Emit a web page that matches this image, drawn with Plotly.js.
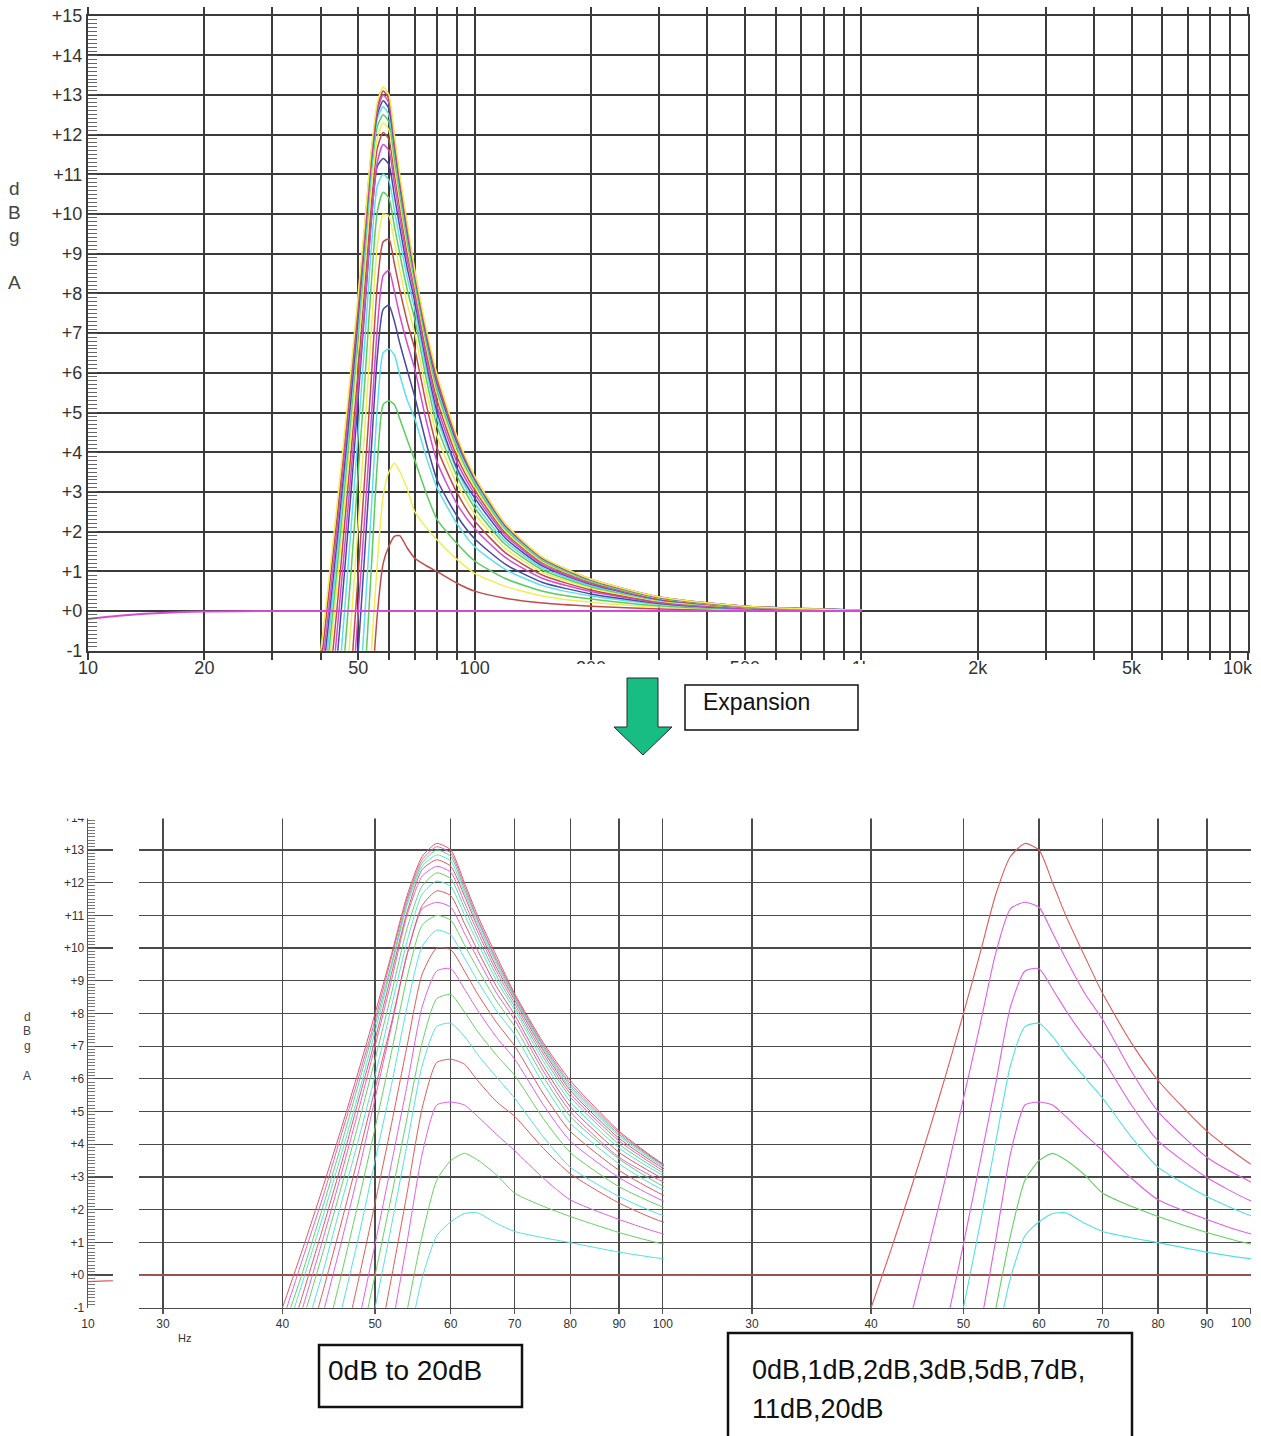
<!DOCTYPE html>
<html><head><meta charset="utf-8">
<script src="https://cdn.plot.ly/plotly-3.0.1.min.js"></script>
<style>html,body{margin:0;padding:0;background:#fff}#chart{width:1261px;height:1436px}</style>
</head><body><div id="chart"></div>
<script>
// ---------- data ----------
const FREQ = [38,40,42,44,46,48,50,52,54,56,58,60,62,64,67,70,75,80,90,100,120,150,200,300,500,1000];
const dB20 = [-2.8,-1.0,0.8,2.6,4.4,6.2,8.0,9.8,11.6,12.8,13.2,13.0,12.0,11.0,9.75,8.6,7.1,5.95,4.4,3.4,2.2,1.35,0.8,0.35,0.12,0.02];
const dB19 = [-3.2,-1.4,0.5,2.3,4.2,6.0,7.8,9.7,11.5,12.7,13.1,12.9,11.9,10.9,9.65,8.55,7.03,5.86,4.35,3.38,2.19,1.34,0.8,0.35,0.12,0.02];
const dB18 = [-3.6,-1.75,0.1,2.0,3.9,5.8,7.65,9.5,11.4,12.6,13.0,12.8,11.8,10.85,9.58,8.5,6.98,5.79,4.3,3.36,2.17,1.33,0.79,0.35,0.12,0.02];
const dB17 = [-4.1,-2.15,-0.2,1.7,3.6,5.5,7.45,9.4,11.3,12.5,12.85,12.66,11.7,10.75,9.5,8.45,6.92,5.72,4.25,3.32,2.15,1.32,0.78,0.34,0.12,0.02];
const dB16 = [-4.5,-2.6,-0.6,1.35,3.3,5.3,7.2,9.2,11.1,12.4,12.7,12.5,11.6,10.65,9.4,8.4,6.86,5.65,4.18,3.27,2.11,1.3,0.77,0.34,0.12,0.02];
const dB15 = [-5.0,-3.0,-1.0,1.0,3.0,5.0,7.0,9.0,11.0,12.2,12.5,12.32,11.4,10.5,9.28,8.3,6.76,5.55,4.1,3.2,2.07,1.27,0.75,0.33,0.11,0.02];
const dB14 = [-5.4,-3.4,-1.4,0.6,2.6,4.6,6.6,8.6,10.6,11.9,12.3,12.12,11.23,10.34,9.15,8.2,6.66,5.45,4.0,3.13,2.02,1.24,0.74,0.32,0.11,0.02];
const dB13 = [-6.1,-4.1,-2.0,0.0,2.1,4.1,6.1,8.2,10.2,11.65,12.05,11.88,11.02,10.16,9.0,8.1,6.53,5.3,3.88,3.05,1.97,1.21,0.72,0.31,0.11,0.02];
const dB12 = [-6.8,-4.7,-2.7,-0.6,1.5,3.6,5.7,7.7,9.8,11.3,11.75,11.6,10.76,9.93,8.82,7.95,6.38,5.15,3.75,2.95,1.91,1.17,0.69,0.3,0.1,0.02];
const dB11 = [-8.1,-5.8,-3.6,-1.3,0.9,3.1,5.4,7.6,9.8,11.2,11.4,11.25,10.46,9.68,8.62,7.8,6.23,5.0,3.6,2.85,1.84,1.13,0.67,0.29,0.1,0.02];
const dB10 = [-9.3,-7.0,-4.7,-2.4,-0.1,2.2,4.5,6.8,9.1,10.7,11.0,10.85,10.1,9.37,8.38,7.6,6.06,4.85,3.55,2.72,1.76,1.08,0.64,0.28,0.1,0.02];
const dB9  = [-10.7,-8.3,-6.0,-3.6,-1.2,1.1,3.5,5.8,8.2,10.05,10.55,10.4,9.7,9.0,8.08,7.35,5.84,4.65,3.4,2.6,1.68,1.03,0.61,0.27,0.09,0.02];
const dB8  = [-12.2,-9.8,-7.4,-5.0,-2.6,-0.2,2.2,4.6,7.0,9.2,10.0,9.95,9.3,8.6,7.72,7.0,5.54,4.4,3.2,2.45,1.58,0.97,0.58,0.25,0.09,0.01];
const dB7  = [-13.7,-11.2,-8.8,-6.4,-3.9,-1.5,0.95,3.4,5.8,8.2,9.3,9.37,8.75,8.1,7.27,6.6,5.2,4.1,2.98,2.27,1.47,0.9,0.53,0.23,0.08,0.01];
const dB6  = [-14.4,-12.0,-9.6,-7.2,-4.8,-2.4,0.0,2.4,4.8,7.1,8.45,8.58,8.05,7.45,6.72,6.1,4.78,3.75,2.7,2.08,1.35,0.82,0.49,0.21,0.07,0.01];
const dB5  = [-16.0,-13.5,-11.0,-8.5,-6.0,-3.5,-1.0,1.5,4.0,6.4,7.6,7.7,7.3,6.75,6.05,5.4,4.22,3.3,2.4,1.82,1.18,0.72,0.43,0.19,0.06,0.01];
const dB4  = [-18.3,-15.7,-13.1,-10.5,-7.9,-5.3,-2.7,-0.1,2.5,5.1,6.5,6.6,6.45,5.95,5.3,4.85,3.87,3.1,2.2,1.62,1.05,0.64,0.38,0.17,0.06,0.01];
const dB3  = [-20.6,-17.9,-15.2,-12.5,-9.8,-7.1,-4.4,-1.7,1.0,3.7,5.2,5.29,5.2,4.85,4.3,3.8,2.96,2.3,1.7,1.26,0.82,0.5,0.3,0.13,0.04,0.0];
const dB2  = [-21.5,-18.9,-16.3,-13.7,-11.1,-8.5,-6.3,-3.7,-1.1,1.2,2.9,3.5,3.72,3.52,3.06,2.5,2.1,1.79,1.3,0.95,0.62,0.38,0.22,0.1,0.03,0.0];
const dB1  = [-23.6,-21.0,-18.3,-15.7,-13.0,-10.4,-7.7,-5.0,-2.3,-0.1,1.2,1.63,1.88,1.9,1.58,1.33,1.14,0.99,0.7,0.5,0.32,0.2,0.12,0.05,0.02,0.0];
const FREQ0 = [10,12,14,17,20,30,100,1000];
const dB0  = [-0.2,-0.12,-0.07,-0.03,-0.01,0,0,0];

const LEVELS = [1,2,3,4,5,6,7,8,9,10,11,12,13,14,15,16,17,18,19,20];
const RIGHT_LEVELS = [1,2,3,5,7,11,20];

const TOP_X_TICKS  = [10,20,30,40,50,60,70,80,90,100,200,300,400,500,600,700,800,900,1000,2000,3000,4000,5000,6000,7000,8000,9000,10000];
const TOP_X_LABELS = ['10','20','','','50','','','','','100','200','','','500','','','','','1k','2k','','','5k','','','','',''];
const TOP_X_LAST_LABEL = '10k';
const TOP_Y_TICKS  = [-1,0,1,2,3,4,5,6,7,8,9,10,11,12,13,14,15];
const TOP_Y_LABELS = ['-1','+0','+1','+2','+3','+4','+5','+6','+7','+8','+9','+10','+11','+12','+13','+14','+15'];
const BOT_X_TICKS  = [30,40,50,60,70,80,90,100];
const BOT_X_LABELS = ['30','40','50','60','70','80','90','100'];
const BOT_X_LABELS_RIGHT = ['30','40','50','60','70','80','90',''];
const BOT_X_LAST_LABEL = '100';
const BOT_Y_TICKS  = [-1,0,1,2,3,4,5,6,7,8,9,10,11,12,13,14];
const BOT_Y_LABELS = ['-1','+0','+1','+2','+3','+4','+5','+6','+7','+8','+9','+10','+11','+12','+13','+14'];
const RULER_X_TICKS = [10], RULER_X_LABELS = ['10'];
const YLABEL_LETTERS = ['d','B','g','A'];
const ARROW_TEXT = 'Expansion';
const BOX_LEFT_TEXT = '0dB to 20dB';
const BOX_RIGHT_LINES = ['0dB,1dB,2dB,3dB,5dB,7dB,','11dB,20dB'];

const SERIES = {0:dB0,1:dB1,2:dB2,3:dB3,4:dB4,5:dB5,6:dB6,7:dB7,8:dB8,9:dB9,10:dB10,
  11:dB11,12:dB12,13:dB13,14:dB14,15:dB15,16:dB16,17:dB17,18:dB18,19:dB19,20:dB20};

// ---------- styling ----------
const W = 1261, H = 1436;
const px = x => x / W, py = y => 1 - y / H;
const TOP_COLORS = ['#d24cd2','#c44a4a','#eeee55','#5ccc5c','#5edfea','#4848a8'];
const BOT_COLORS = ['#e05a5a','#55e0e0','#66d066','#e060e6'];
const SANS = 'Liberation Sans, Arial, sans-serif';

const traces = [];
function add(level, xa, ya, color, width) {
  const isZero = level === 0;
  traces.push({
    type: 'scatter', mode: 'lines',
    x: isZero ? FREQ0 : FREQ, y: SERIES[level],
    xaxis: xa, yaxis: ya,
    line: {color: color, width: width, shape: 'spline', smoothing: 0.6},
    hoverinfo: 'skip'
  });
}
LEVELS.forEach(n => add(n, 'x', 'y', TOP_COLORS[n % 6], 1.5));
add(0, 'x', 'y', TOP_COLORS[0], 2);
LEVELS.forEach(n => add(n, 'x2', 'y2', BOT_COLORS[n % 4], 1));
add(0, 'x2', 'y2', BOT_COLORS[0], 1.2);
RIGHT_LEVELS.forEach(n => add(n, 'x3', 'y3', BOT_COLORS[n % 4], 1.1));
add(0, 'x3', 'y3', BOT_COLORS[0], 1.2);
add(0, 'x4', 'y4', BOT_COLORS[0], 1.2);

const botX = (dom, range, anchor, labels) => ({
  type: 'log', domain: dom, range: range, anchor: anchor,
  tickmode: 'array', tickvals: BOT_X_TICKS, ticktext: labels,
  ticks: 'outside', ticklen: 5, tickcolor: '#555', tickwidth: 1.3,
  showgrid: true, gridcolor: '#4a4a4a', gridwidth: 1.3,
  showline: true, linecolor: '#4a4a4a', linewidth: 1.3,
  tickfont: {family: SANS, size: 12, color: '#333'}, zeroline: false, fixedrange: true
});
const botY = (anchor) => ({
  domain: [py(1307.7), py(817.3)], range: [-1, 14], anchor: anchor,
  tickmode: 'array', tickvals: BOT_Y_TICKS, showticklabels: false, ticks: '',
  showgrid: true, gridcolor: '#4a4a4a', gridwidth: 1.3, zeroline: false, showline: false, fixedrange: true
});

const layout = {
  width: W, height: H, margin: {l: 0, r: 0, t: 0, b: 0},
  paper_bgcolor: '#fff', plot_bgcolor: '#fff', showlegend: false,
  xaxis: {
    type: 'log', domain: [px(88), px(1248)], range: [1, 4.0002], anchor: 'y',
    tickmode: 'array', tickvals: TOP_X_TICKS, ticktext: TOP_X_LABELS,
    ticks: 'outside', ticklen: 7, tickcolor: '#3a3a3a', tickwidth: 2,
    showgrid: true, gridcolor: '#3a3a3a', gridwidth: 2,
    showline: true, linecolor: '#3a3a3a', linewidth: 2, mirror: 'ticks',
    ticklabelstandoff: -7,
    tickfont: {family: SANS, size: 18, color: '#333'}, zeroline: false, fixedrange: true
  },
  yaxis: {
    domain: [py(650.7), py(15.5)], range: [-1, 15], anchor: 'x',
    tickmode: 'array', tickvals: TOP_Y_TICKS, ticktext: TOP_Y_LABELS,
    ticks: 'inside', ticklen: 9, tickcolor: '#555', tickwidth: 1,
    minor: {tickmode: 'linear', tick0: -1, dtick: 0.1, ticks: 'inside', ticklen: 9, tickcolor: '#666', tickwidth: 1, showgrid: false},
    showgrid: true, gridcolor: '#3a3a3a', gridwidth: 2,
    showline: true, linecolor: '#3a3a3a', linewidth: 2, mirror: true,
    tickfont: {family: SANS, size: 18, color: '#333'}, zeroline: false, fixedrange: true
  },
  xaxis2: botX([px(139), px(664)], [1.452, 2.0012], 'y2', BOT_X_LABELS),
  yaxis2: botY('x2'),
  xaxis3: botX([px(664), px(1251)], [1.3849, 2.0005], 'y3', BOT_X_LABELS_RIGHT),
  yaxis3: botY('x3'),
  xaxis4: {
    type: 'log', domain: [px(88), px(113)], range: [1, 1.026], anchor: 'y4',
    tickmode: 'array', tickvals: RULER_X_TICKS, ticktext: RULER_X_LABELS,
    ticks: 'outside', ticklen: 5, tickcolor: 'rgba(0,0,0,0)',
    showgrid: false, showline: false, zeroline: false,
    tickfont: {family: SANS, size: 12, color: '#333'}, fixedrange: true
  },
  yaxis4: {
    domain: [py(1307.7), py(817.3)], range: [-1, 14], anchor: 'x4',
    tickmode: 'array', tickvals: BOT_Y_TICKS, ticktext: BOT_Y_LABELS,
    ticks: 'inside', ticklen: 7, tickcolor: '#666', tickwidth: 1,
    minor: {tickmode: 'linear', tick0: -1, dtick: 0.1, ticks: 'inside', ticklen: 7, tickcolor: '#777', tickwidth: 1, showgrid: false},
    showgrid: true, gridcolor: '#4a4a4a', gridwidth: 1.3,
    showline: true, linecolor: '#555', linewidth: 1.3, zeroline: false,
    tickfont: {family: SANS, size: 12, color: '#333'}, fixedrange: true
  },
  shapes: [
    // white masks that clip labels as in the reference
    {type: 'rect', xref: 'paper', yref: 'paper', x0: px(555), x1: px(890), y0: py(684), y1: py(664), fillcolor: '#fff', line: {width: 0}, layer: 'above'},
    {type: 'rect', xref: 'paper', yref: 'paper', x0: px(40), x1: px(1261), y0: py(818.4), y1: py(790), fillcolor: '#fff', line: {width: 0}, layer: 'above'},
    // arrow
    {type: 'path', xref: 'paper', yref: 'paper', layer: 'above',
     path: 'M ' + [[627,678],[658,678],[658,727],[672,727],[643,755],[614,727],[627,727]].map(p => px(p[0]) + ',' + py(p[1])).join(' L ') + ' Z',
     fillcolor: '#17bd82', line: {color: '#2a2a2a', width: 1}},
    // boxes
    {type: 'rect', xref: 'paper', yref: 'paper', x0: px(685), x1: px(858), y0: py(730), y1: py(685), fillcolor: '#fff', line: {color: '#111', width: 1.5}, layer: 'above'},
    {type: 'rect', xref: 'paper', yref: 'paper', x0: px(319), x1: px(522), y0: py(1407), y1: py(1345), fillcolor: '#fff', line: {color: '#111', width: 2.5}, layer: 'above'},
    {type: 'rect', xref: 'paper', yref: 'paper', x0: px(728), x1: px(1132), y0: py(1445), y1: py(1333), fillcolor: '#fff', line: {color: '#111', width: 2.5}, layer: 'above'}
  ],
  annotations: []
};

const A = layout.annotations;
const topLetterY = [188, 212, 236, 282];
const botLetterY = [1017, 1031, 1046, 1076];
YLABEL_LETTERS.forEach((t, i) => {
  A.push({xref: 'paper', yref: 'paper', x: px(14), y: py(topLetterY[i]), xanchor: 'center', yanchor: 'middle', text: t, showarrow: false, font: {family: SANS, size: 19, color: '#444'}});
  A.push({xref: 'paper', yref: 'paper', x: px(27), y: py(botLetterY[i]), xanchor: 'center', yanchor: 'middle', text: t, showarrow: false, font: {family: SANS, size: 12, color: '#444'}});
});
// last tick labels, kept inside the page as in the reference
A.push({xref: 'paper', yref: 'paper', x: px(1238), y: py(668), xanchor: 'center', yanchor: 'middle', text: TOP_X_LAST_LABEL, showarrow: false, font: {family: SANS, size: 18, color: '#333'}});
A.push({xref: 'paper', yref: 'paper', x: px(1241), y: py(1323), xanchor: 'center', yanchor: 'middle', text: BOT_X_LAST_LABEL, showarrow: false, font: {family: SANS, size: 12, color: '#333'}});
A.push({xref: 'paper', yref: 'paper', x: px(184), y: py(1338), xanchor: 'center', yanchor: 'middle', text: 'Hz', showarrow: false, font: {family: SANS, size: 11, color: '#333'}});
A.push({xref: 'paper', yref: 'paper', x: px(701), y: py(702), xanchor: 'left', yanchor: 'middle', text: ARROW_TEXT, showarrow: false, font: {family: SANS, size: 23, color: '#111'}});
A.push({xref: 'paper', yref: 'paper', x: px(326), y: py(1370), xanchor: 'left', yanchor: 'middle', text: BOX_LEFT_TEXT, showarrow: false, font: {family: SANS, size: 28, color: '#111'}});
A.push({xref: 'paper', yref: 'paper', x: px(750), y: py(1370), xanchor: 'left', yanchor: 'middle', text: BOX_RIGHT_LINES[0], showarrow: false, font: {family: SANS, size: 27, color: '#111'}});
A.push({xref: 'paper', yref: 'paper', x: px(750), y: py(1409), xanchor: 'left', yanchor: 'middle', text: BOX_RIGHT_LINES[1], showarrow: false, font: {family: SANS, size: 27, color: '#111'}});

Plotly.newPlot('chart', traces, layout, {staticPlot: true, displayModeBar: false});
</script>
</body></html>
